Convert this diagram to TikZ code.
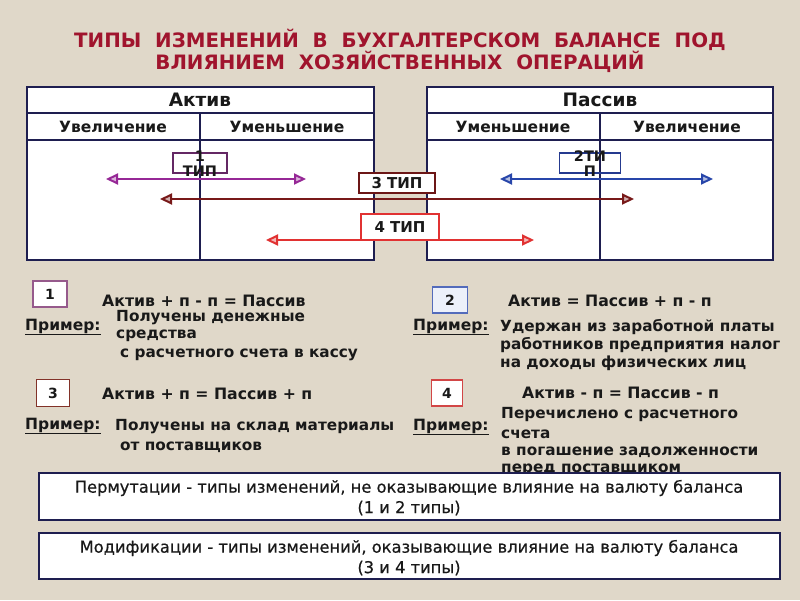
\documentclass[tikz,border=0pt]{standalone}
\usepackage{fontspec}
\setmainfont{DejaVu Sans}
\newfontfamily\sumfont[FakeBold=0.5]{DejaVu Sans}
\usetikzlibrary{arrows.meta}
\definecolor{bg}{RGB}{224,216,201}
\definecolor{titlered}{RGB}{160,20,45}
\definecolor{navy}{RGB}{30,30,80}
\definecolor{purp}{RGB}{150,40,150}
\definecolor{purpbox}{RGB}{100,40,100}
\definecolor{darkred}{RGB}{120,25,25}
\definecolor{brightred}{RGB}{225,50,50}
\definecolor{blu}{RGB}{40,70,170}
\definecolor{txt}{RGB}{25,25,25}
\tikzset{
  tbl/.style={draw=navy, line width=1.8pt},
  head/.style={font=\bfseries\fontsize{18.5}{20}\selectfont, text=txt},
  subhead/.style={font=\bfseries\fontsize{15.5}{17}\selectfont, text=txt},
  typebox/.style={draw, line width=1.3pt, inner sep=0pt, align=center, text=txt,
    font=\bfseries\fontsize{15}{15}\selectfont},
  dbl/.style={#1, line width=2pt, {Triangle[length=12pt,width=11pt,line width=2pt,fill=#1!35]}-{Triangle[length=12pt,width=11pt,line width=2pt,fill=#1!35]}},
  numbox/.style={draw, line width=1.3pt, inner sep=0pt, text=txt,
    font=\bfseries\fontsize{14}{16}\selectfont},
  eq/.style={anchor=west, inner sep=0pt, text=txt, font=\bfseries\fontsize{15.7}{17}\selectfont},
  ex/.style={anchor=west, inner sep=0pt, text=txt, font=\bfseries\fontsize{15.3}{17}\selectfont},
  primer/.style={anchor=west, inner sep=0pt, text=txt, font=\bfseries\fontsize{15.5}{17}\selectfont},
  sumbox/.style={draw=navy, line width=1.5pt, fill=white},
  sumtext/.style={inner sep=0pt, text=txt, font=\sumfont\fontsize{16.3}{18}\selectfont}
}
\begin{document}
\begin{tikzpicture}[x=1pt,y=-1pt]
\fill[bg] (0,0) rectangle (800,600);
\useasboundingbox (0,0) rectangle (800,600);

% title
\node[text=titlered, font=\bfseries\fontsize{19.8}{22}\selectfont, align=center] (title) at (400,51)
  {ТИПЫ\ \ ИЗМЕНЕНИЙ\ \ В\ \ БУХГАЛТЕРСКОМ\ \ БАЛАНСЕ\ \ ПОД\\ВЛИЯНИЕМ\ \ ХОЗЯЙСТВЕННЫХ\ \ ОПЕРАЦИЙ};

% left table
\draw[tbl, fill=white] (27,87) rectangle (374,260);
\draw[tbl] (27,113) -- (374,113) (27,140) -- (374,140) (200,113) -- (200,260);
\node[head] (aktiv) at (200,100) {Актив};
\node[subhead] (luv) at (113,127) {Увеличение};
\node[subhead] (lum) at (287,127) {Уменьшение};

% right table
\draw[tbl, fill=white] (427,87) rectangle (773,260);
\draw[tbl] (427,113) -- (773,113) (427,140) -- (773,140) (600,113) -- (600,260);
\node[head] (passiv) at (600,100) {Пассив};
\node[subhead] (rum) at (513,127) {Уменьшение};
\node[subhead] (ruv) at (687,127) {Увеличение};

% arrows
\coordinate (a1l) at (106,179); \coordinate (a1r) at (306,179);
\coordinate (a2l) at (500,179); \coordinate (a2r) at (713,179);
\coordinate (a3l) at (160,199); \coordinate (a3r) at (634,199);
\coordinate (a4l) at (266,240); \coordinate (a4r) at (534,240);
\draw[dbl=purp] (a1l) -- (a1r);
\draw[dbl=blu] (a2l) -- (a2r);
\draw[dbl=darkred] (a3l) -- (a3r);
\draw[dbl=brightred] (a4l) -- (a4r);

% type boxes
\node[typebox, draw=purpbox, minimum width=54pt, minimum height=20pt] (t1) at (200,163) {};
\node[font=\bfseries\fontsize{14.5}{15}\selectfont, text=txt, align=center, inner sep=0pt] (t1t) at (200,164) {1\\ТИП};
\node[typebox, draw=blu!70!navy, minimum width=61pt, minimum height=20pt] (t2) at (590,163) {};
\node[font=\bfseries\fontsize{14.5}{15}\selectfont, text=txt, align=center, inner sep=0pt] (t2t) at (590,164) {2ТИ\\П};
\node[typebox, draw=darkred!90!black, fill=white, minimum width=76pt, minimum height=20pt] (t3) at (397,183) {3 ТИП};
\node[typebox, draw=brightred, fill=white, minimum width=78pt, minimum height=26pt] (t4) at (400,227) {4 ТИП};

% lower section
\node[numbox, draw={rgb,255:red,150;green,90;blue,140}, fill=white, minimum width=34pt, minimum height=26pt] (n1) at (50,294) {1};
\node[eq] (e1) at (102,301) {Актив + п - п = Пассив};
\node[primer] (p1) at (25,327) {\underline{Пример:}};
\node[ex] (x1a) at (116,318) {Получены денежные};
\node[ex] (x1b) at (116,336) {средства};
\node[ex] (x1c) at (120,355) {с расчетного счета в кассу};

\node[numbox, draw=blu!80, fill={rgb,255:red,236;green,240;blue,250}, minimum width=35pt, minimum height=26pt] (n2) at (450,300) {2};
\node[eq] (e2) at (508,301) {Актив = Пассив + п - п};
\node[primer] (p2) at (413,327) {\underline{Пример:}};
\node[ex] (x2a) at (500,327) {Удержан из заработной платы};
\node[ex] (x2b) at (500,345) {работников предприятия налог};
\node[ex] (x2c) at (500,363) {на доходы физических лиц};

\node[numbox, draw={rgb,255:red,130;green,50;blue,40}, fill=white, minimum width=33pt, minimum height=27pt] (n3) at (53,393) {3};
\node[eq] (e3) at (102,394) {Актив + п = Пассив + п};
\node[primer] (p3) at (25,426) {\underline{Пример:}};
\node[ex] (x3a) at (115,427) {Получены на склад материалы};
\node[ex] (x3b) at (120,447) {от поставщиков};

\node[numbox, draw={rgb,255:red,210;green,70;blue,70}, fill=white, minimum width=31pt, minimum height=26pt] (n4) at (447,393) {4};
\node[eq] (e4) at (522,393) {Актив - п = Пассив - п};
\node[primer] (p4) at (413,427) {\underline{Пример:}};
\node[ex] (x4a) at (501,415) {Перечислено с расчетного};
\node[ex] (x4b) at (501,434) {счета};
\node[ex] (x4c) at (501,452) {в погашение задолженности};
\node[ex] (x4d) at (501,470) {перед поставщиком};

% summary boxes
\draw[sumbox] (39,473) rectangle (780,520);
\node[sumtext] (s1a) at (409,488) {Пермутации - типы изменений, не оказывающие влияние на валюту баланса};
\node[sumtext] (s1b) at (409,508) {(1 и 2 типы)};
\draw[sumbox] (39,533) rectangle (780,579);
\node[sumtext] (s2a) at (409,548) {Модификации - типы изменений, оказывающие влияние на валюту баланса};
\node[sumtext] (s2b) at (409,568) {(3 и 4 типы)};
\end{tikzpicture}
\end{document}
